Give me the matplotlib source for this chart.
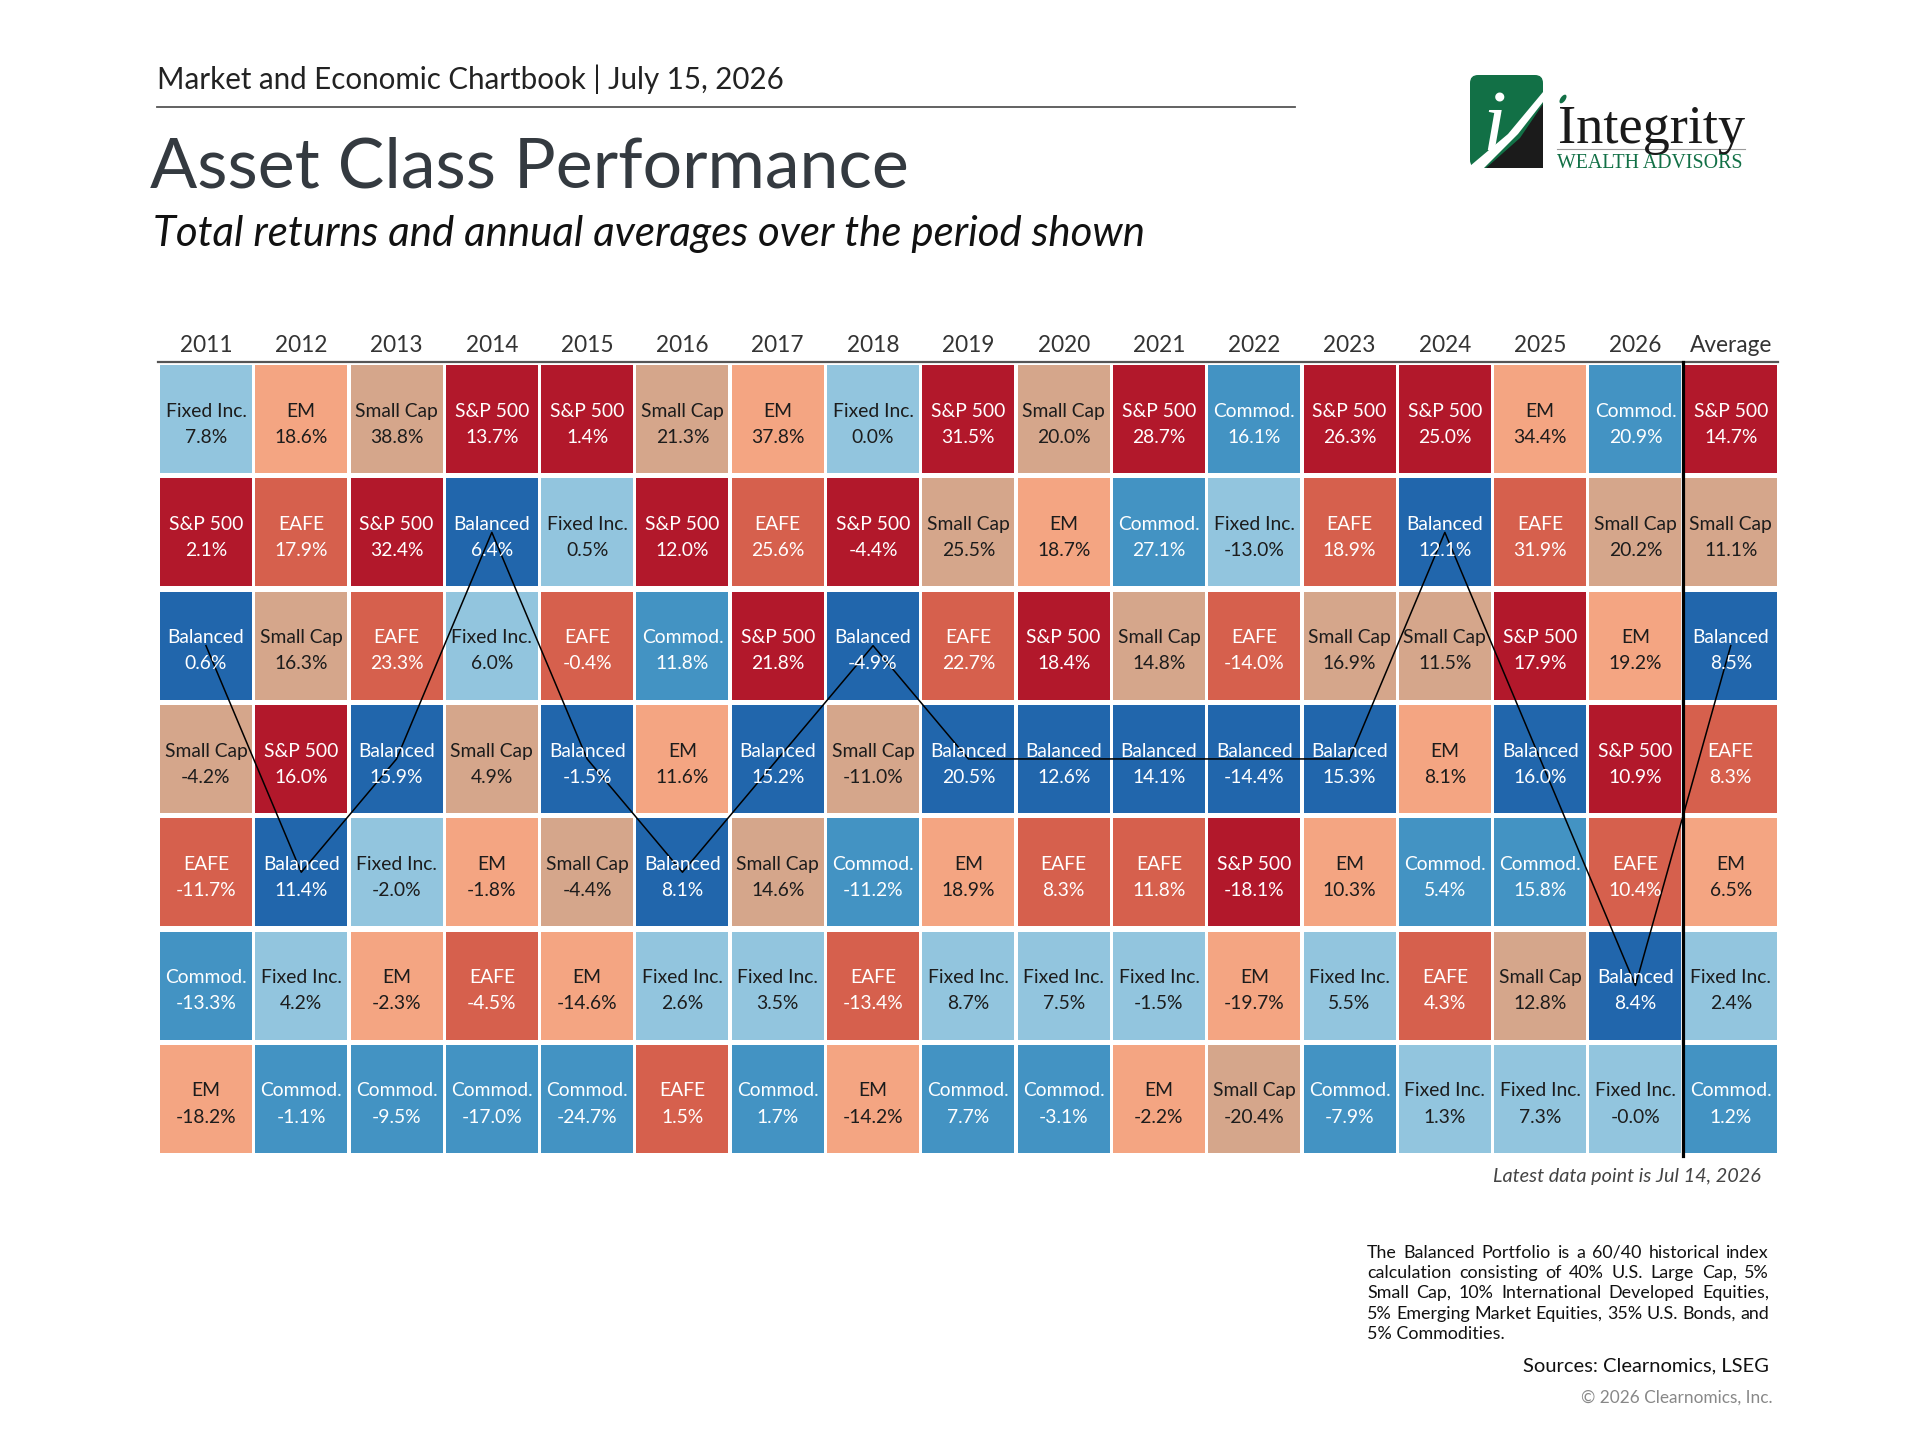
import matplotlib
matplotlib.use("Agg")
import matplotlib.pyplot as plt
from matplotlib.patches import Rectangle, Polygon, FancyBboxPatch, Ellipse
from matplotlib.lines import Line2D

# ---- data ----
years = ["2011", "2012", "2013", "2014", "2015", "2016", "2017", "2018",
         "2019", "2020", "2021", "2022", "2023", "2024", "2025", "2026", "Average"]

names = [
    ["Fixed Inc.", "S&P 500", "Balanced", "Small Cap", "EAFE", "Commod.", "EM"],
    ["EM", "EAFE", "Small Cap", "S&P 500", "Balanced", "Fixed Inc.", "Commod."],
    ["Small Cap", "S&P 500", "EAFE", "Balanced", "Fixed Inc.", "EM", "Commod."],
    ["S&P 500", "Balanced", "Fixed Inc.", "Small Cap", "EM", "EAFE", "Commod."],
    ["S&P 500", "Fixed Inc.", "EAFE", "Balanced", "Small Cap", "EM", "Commod."],
    ["Small Cap", "S&P 500", "Commod.", "EM", "Balanced", "Fixed Inc.", "EAFE"],
    ["EM", "EAFE", "S&P 500", "Balanced", "Small Cap", "Fixed Inc.", "Commod."],
    ["Fixed Inc.", "S&P 500", "Balanced", "Small Cap", "Commod.", "EAFE", "EM"],
    ["S&P 500", "Small Cap", "EAFE", "Balanced", "EM", "Fixed Inc.", "Commod."],
    ["Small Cap", "EM", "S&P 500", "Balanced", "EAFE", "Fixed Inc.", "Commod."],
    ["S&P 500", "Commod.", "Small Cap", "Balanced", "EAFE", "Fixed Inc.", "EM"],
    ["Commod.", "Fixed Inc.", "EAFE", "Balanced", "S&P 500", "EM", "Small Cap"],
    ["S&P 500", "EAFE", "Small Cap", "Balanced", "EM", "Fixed Inc.", "Commod."],
    ["S&P 500", "Balanced", "Small Cap", "EM", "Commod.", "EAFE", "Fixed Inc."],
    ["EM", "EAFE", "S&P 500", "Balanced", "Commod.", "Small Cap", "Fixed Inc."],
    ["Commod.", "Small Cap", "EM", "S&P 500", "EAFE", "Balanced", "Fixed Inc."],
    ["S&P 500", "Small Cap", "Balanced", "EAFE", "EM", "Fixed Inc.", "Commod."],
]

values = [
    [7.8, 2.1, 0.6, -4.2, -11.7, -13.3, -18.2],
    [18.6, 17.9, 16.3, 16.0, 11.4, 4.2, -1.1],
    [38.8, 32.4, 23.3, 15.9, -2.0, -2.3, -9.5],
    [13.7, 6.4, 6.0, 4.9, -1.8, -4.5, -17.0],
    [1.4, 0.5, -0.4, -1.5, -4.4, -14.6, -24.7],
    [21.3, 12.0, 11.8, 11.6, 8.1, 2.6, 1.5],
    [37.8, 25.6, 21.8, 15.2, 14.6, 3.5, 1.7],
    [0.0, -4.4, -4.9, -11.0, -11.2, -13.4, -14.2],
    [31.5, 25.5, 22.7, 20.5, 18.9, 8.7, 7.7],
    [20.0, 18.7, 18.4, 12.6, 8.3, 7.5, -3.1],
    [28.7, 27.1, 14.8, 14.1, 11.8, -1.5, -2.2],
    [16.1, -13.0, -14.0, -14.4, -18.1, -19.7, -20.4],
    [26.3, 18.9, 16.9, 15.3, 10.3, 5.5, -7.9],
    [25.0, 12.1, 11.5, 8.1, 5.4, 4.3, 1.3],
    [34.4, 31.9, 17.9, 16.0, 15.8, 12.8, 7.3],
    [20.9, 20.2, 19.2, 10.9, 10.4, 8.4, -0.0],
    [14.7, 11.1, 8.5, 8.3, 6.5, 2.4, 1.2],
]

cell_colors = {
    "S&P 500": "#B2182B",
    "EAFE": "#D6604D",
    "EM": "#F4A582",
    "Small Cap": "#D5A68B",
    "Fixed Inc.": "#92C5DE",
    "Commod.": "#4393C3",
    "Balanced": "#2166AC",
}
dark_text = {"EM", "Small Cap", "Fixed Inc."}

footnote = [
    "The Balanced Portfolio is a 60/40 historical index",
    "calculation consisting of 40% U.S. Large Cap, 5%",
    "Small Cap, 10% International Developed Equities,",
    "5% Emerging Market Equities, 35% U.S. Bonds, and",
    "5% Commodities.",
]

W, H = 1920, 1440
FONT = "Lato"
plt.rcParams["font.family"] = [FONT, "DejaVu Sans"]

fig = plt.figure(figsize=(W / 100, H / 100), dpi=100)
fig.patch.set_facecolor("white")
renderer = fig.canvas.get_renderer()


def text_width(s, size, **kw):
    t = fig.text(0, 0, s, fontsize=size, **kw)
    w = t.get_window_extent(renderer).width
    t.remove()
    return w


def fit(s, width_px, **kw):
    return 20 * width_px / text_width(s, 20, **kw)


def put(s, x, y, width_px, ha="left", **kw):
    size = fit(s, width_px, **kw)
    fig.text(x / W, 1 - y / H, s, ha=ha, va="baseline", fontsize=size, **kw)
    return size


# ---- header ----
put("Market and Economic Chartbook | July 15, 2026", 157, 89, 628, color="#222222")
fig.add_artist(Line2D([157 / W, 1295 / W], [1 - 107 / H] * 2, color="#555555", lw=1.3))
put("Asset Class Performance", 150, 187, 760, color="#343a40")
put("Total returns and annual averages over the period shown", 153, 246, 990,
    color="#111111", style="italic")

# ---- logo ----
lax = fig.add_axes([0, 0, 1, 1], zorder=5)
lax.set_xlim(0, W)
lax.set_ylim(H, 0)
lax.set_axis_off()
lax.patch.set_alpha(0)
lax.add_patch(FancyBboxPatch((1470, 75), 73, 93, boxstyle="round,pad=0,rounding_size=8",
                             fc="#127046", ec="none"))
lax.add_patch(Polygon([[1543, 104], [1543, 168], [1486, 168], [1520, 138]],
                      closed=True, fc="#1b1b1b", ec="none"))
lax.add_patch(Polygon([[1543, 92], [1543, 102], [1518, 134], [1482, 170], [1470, 170],
                       [1470, 166], [1508, 134]],
                      closed=True, fc="white", ec="none"))
lax.text(1494, 150, "i", fontsize=62, color="white", ha="center", va="baseline",
         family="Liberation Serif", style="italic")
lax.add_patch(Ellipse((1563, 99), 5, 10, angle=35, fc="#127046", ec="none"))
isz = fit("Integrity", 187, family="Liberation Serif")
lax.text(1558, 143, "Integrity", fontsize=isz, color="#1a1a1a", ha="left", va="baseline",
         family="Liberation Serif")
lax.plot([1557, 1745], [149, 149], color="#9a9a9a", lw=0.8)
wsz = fit("WEALTH ADVISORS", 186, family="Liberation Serif")
lax.text(1557, 168, "WEALTH ADVISORS", fontsize=wsz, color="#127046", ha="left",
         va="baseline", family="Liberation Serif")

# ---- table ----
pitch_x, pitch_y = 95.3, 113.3
left, top = 158.3, 362.4
ncol, nrow = len(years), len(names[0])
ax = fig.add_axes([left / W, 1 - (top + nrow * pitch_y) / H,
                   ncol * pitch_x / W, nrow * pitch_y / H])
ax.set_xlim(0, ncol)
ax.set_ylim(nrow, 0)
ax.set_axis_off()

gx, gy = 1.65 / pitch_x, 2.65 / pitch_y
cell_size = fit("Small Cap", 83)
year_size = 0.5 * (fit("Average", 86) + fit("2011", 50))

for c in range(ncol):
    ax.text(c + 0.5, -0.09, years[c], ha="center", va="baseline", fontsize=year_size,
            color="#333333", clip_on=False)
    for r in range(nrow):
        nm = names[c][r]
        ax.add_patch(Rectangle((c + gx, r + gy), 1 - 2 * gx, 1 - 2 * gy,
                               fc=cell_colors[nm], ec="none", zorder=1))
        tc = "#1c1c1c" if nm in dark_text else "white"
        ax.text(c + 0.5, r + 0.479, nm, ha="center", va="baseline",
                fontsize=cell_size, color=tc, zorder=4)
        ax.text(c + 0.5, r + 0.709, f"{values[c][r]:.1f}%", ha="center", va="baseline",
                fontsize=cell_size, color=tc, zorder=4)

# balanced portfolio path
bx = [c + 0.5 for c in range(ncol)]
by = [names[c].index("Balanced") + 0.5 for c in range(ncol)]
ax.plot(bx, by, color="black", lw=1.1, zorder=3)

ax.axhline(0, color="#555555", lw=1.6, clip_on=False, zorder=5)
ax.axvline(ncol - 1, color="black", lw=2.3, zorder=5, clip_on=False)

# ---- footer ----
put("Latest data point is Jul 14, 2026", 1761, 1182, 268, ha="right",
    color="#444444", style="italic")

fn_size = fit(footnote[3], 402)
fx0, fx1 = 1367, 1769
for i, line in enumerate(footnote):
    y = 1258 + i * 20.2
    words = line.split()
    if i == len(footnote) - 1:
        fig.text(fx0 / W, 1 - y / H, line, fontsize=fn_size, color="#111111",
                 ha="left", va="baseline")
        continue
    ws = [text_width(w, fn_size) for w in words]
    gap = (fx1 - fx0 - sum(ws)) / (len(words) - 1)
    x = fx0
    for w, wd in zip(words, ws):
        fig.text(x / W, 1 - y / H, w, fontsize=fn_size, color="#111111",
                 ha="left", va="baseline")
        x += wd + gap

put("Sources: Clearnomics, LSEG", 1769, 1371, 246, ha="right", color="#111111")
put("\u00a9 2026 Clearnomics, Inc.", 1773, 1403, 192, ha="right", color="#888888")

fig.savefig("out.png", dpi=100)
